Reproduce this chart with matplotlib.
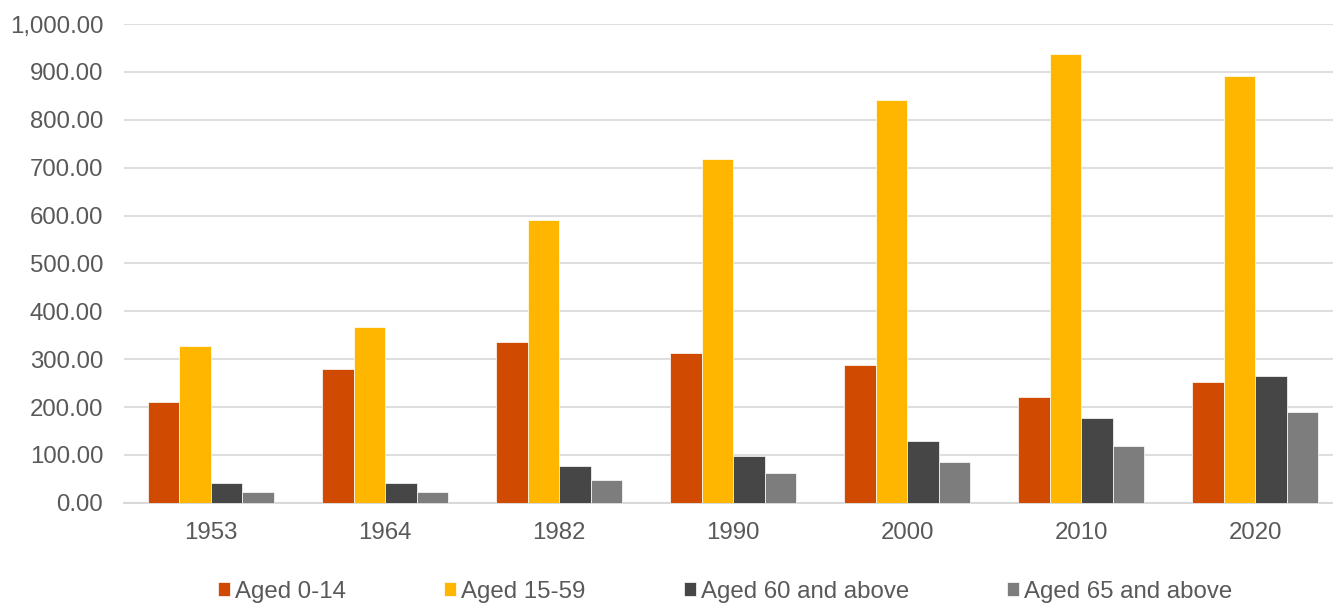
import matplotlib.pyplot as plt
import numpy as np
from matplotlib.ticker import FuncFormatter

# census years and population by age group (millions)
years = ['1953', '1964', '1982', '1990', '2000', '2010', '2020']
aged_0_14 = [210, 280, 336, 312, 288, 220, 253]
aged_15_59 = [327, 367, 590, 719, 842, 937, 891]
aged_60_plus = [41, 41, 76, 97, 129, 176, 264]
aged_65_plus = [23, 23, 48, 63, 86, 118, 190]

series = [
    ('Aged 0-14', aged_0_14, '#D04A02'),
    ('Aged 15-59', aged_15_59, '#FFB600'),
    ('Aged 60 and above', aged_60_plus, '#464646'),
    ('Aged 65 and above', aged_65_plus, '#7D7D7D'),
]

plt.rcParams['font.family'] = ['Liberation Sans', 'DejaVu Sans']
text_color = '#595959'
font_size = 17.3

fig = plt.figure(figsize=(13.33, 6.03), dpi=100)
ax = fig.add_axes([0.093, 0.1663, 0.914, 0.7937])

x = np.arange(len(years))
bar_w = 0.181
for i, (label, vals, color) in enumerate(series):
    offset = (i - 1.5) * bar_w
    ax.bar(x + offset, vals, width=bar_w, color=color, label=label,
           edgecolor='white', linewidth=0.5, zorder=3)

ax.set_xlim(-0.5, len(years) - 0.5)
ax.set_ylim(0, 1000)
ax.set_yticks(np.arange(0, 1001, 100))
ax.yaxis.set_major_formatter(FuncFormatter(lambda v, p: f'{v:,.2f}'))
ax.set_xticks(x)
ax.set_xticklabels(years)

ax.grid(axis='y', color='#DEDEDE', linewidth=1.5, zorder=0)
ax.grid(axis='x', visible=False)
for side in ['top', 'right', 'left']:
    ax.spines[side].set_visible(False)
ax.spines['bottom'].set_color('#D9D9D9')
ax.spines['bottom'].set_linewidth(1.5)

ax.tick_params(axis='y', length=0, pad=15, labelsize=font_size, labelcolor=text_color)
ax.tick_params(axis='x', length=0, pad=14, labelsize=font_size, labelcolor=text_color)

fig.legend(loc='center', bbox_to_anchor=(0.544, 0.019), ncol=4, frameon=False,
           fontsize=font_size, labelcolor=text_color, handlelength=0.5,
           handleheight=0.5, handletextpad=0.2, columnspacing=4.1)

fig.savefig('out.png', dpi=100)
